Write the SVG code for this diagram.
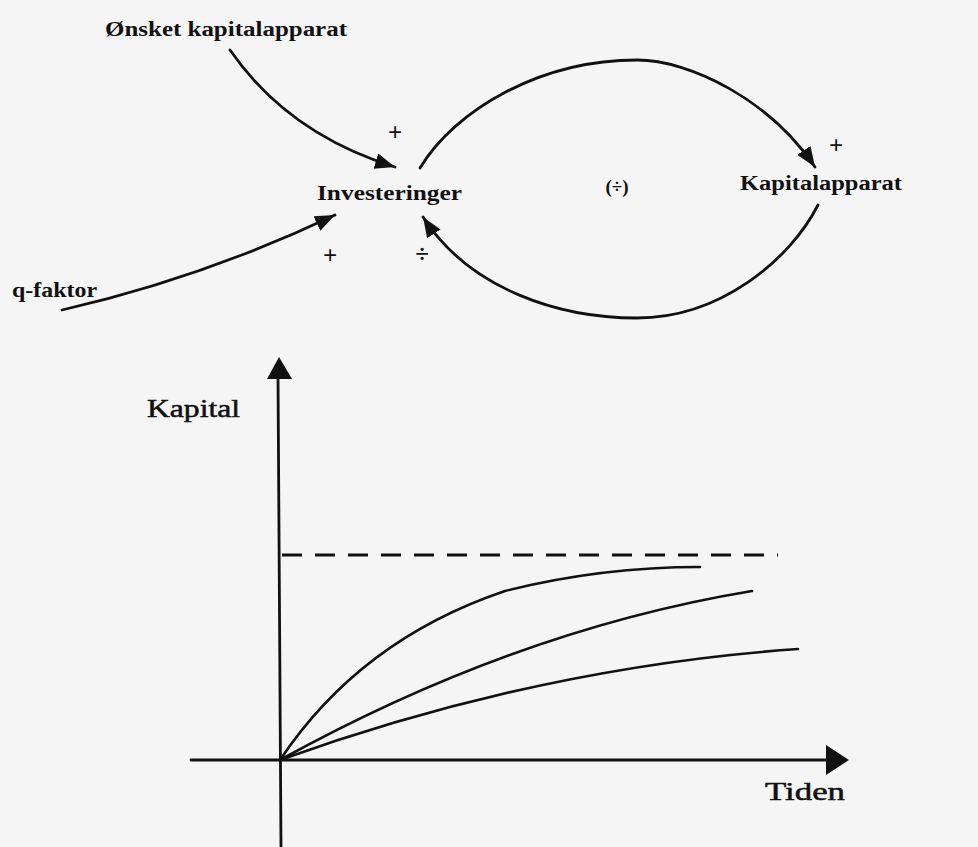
<svg xmlns="http://www.w3.org/2000/svg" width="978" height="847" viewBox="0 0 978 847">
  <style>
    .t { font-family: "Liberation Serif", "DejaVu Serif", serif; fill: #111; font-weight: bold; }
    .lbl { font-size: 20px; }
    .sign { font-size: 25px; }
    .ax { font-size: 25px; font-weight: normal; stroke: #111; stroke-width: 0.5; }
    .ln { fill: none; stroke: #111; stroke-width: 2.8; stroke-linecap: round; }
    .curve { fill: none; stroke: #111; stroke-width: 2.6; stroke-linecap: round; }
  </style>
  <defs>
    <marker id="ah" markerUnits="userSpaceOnUse" markerWidth="24" markerHeight="18" refX="20" refY="8" orient="auto">
      <path d="M0,0 L20,8 L0,16 Z" fill="#111"/>
    </marker>
  </defs>
  <rect x="0" y="0" width="978" height="847" fill="#f5f5f5"/>

  <g id="node-onsket">
    <text class="t lbl" x="105" y="36" textLength="242" lengthAdjust="spacingAndGlyphs">Ønsket kapitalapparat</text>
  </g>
  <g id="node-investeringer">
    <text class="t lbl" x="317" y="200" textLength="145" lengthAdjust="spacingAndGlyphs">Investeringer</text>
  </g>
  <g id="node-qfaktor">
    <text class="t lbl" x="12" y="297" textLength="85" lengthAdjust="spacingAndGlyphs">q-faktor</text>
  </g>
  <g id="node-kapitalapparat">
    <text class="t lbl" x="740" y="190" textLength="162" lengthAdjust="spacingAndGlyphs">Kapitalapparat</text>
  </g>
  <g id="loop-label">
    <text class="t" x="617" y="193" text-anchor="middle" font-size="19">(÷)</text>
  </g>
  <g id="signs">
    <text class="t sign" x="395" y="141" text-anchor="middle">+</text>
    <text class="t sign" x="330" y="264" text-anchor="middle">+</text>
    <text class="t sign" x="422" y="262" text-anchor="middle">÷</text>
    <text class="t sign" x="836" y="154" text-anchor="middle">+</text>
  </g>

  <g id="connectors">
    <path class="ln" d="M230,50 Q288,134 395,167" marker-end="url(#ah)"/>
    <path class="ln" d="M62,310 Q202,278 335,215" marker-end="url(#ah)"/>
    <path class="ln" d="M420,168 C455,110 540,60 637,60 C690,60 770,100 815,167" marker-end="url(#ah)"/>
    <path class="ln" d="M818,205 C790,260 720,318 637,318 C560,318 470,290 423,217" marker-end="url(#ah)"/>
  </g>

  <g id="graph">
    <line class="ln" x1="278" y1="376" x2="281" y2="847"/>
    <polygon points="279,357 267,379 292,379" fill="#111"/>
    <line class="ln" x1="191" y1="760" x2="830" y2="760"/>
    <polygon points="849,760 826,745 826,775" fill="#111"/>
    <line x1="282" y1="555" x2="778" y2="555" stroke="#111" stroke-width="3" stroke-dasharray="20 13"/>
    <path class="curve" d="M280,760 Q360,640 505,591 Q600,567 700,567"/>
    <path class="curve" d="M280,760 Q516,630 752,591"/>
    <path class="curve" d="M280,760 Q539,667 798,649"/>
    <text class="t ax" x="147" y="417" textLength="93" lengthAdjust="spacingAndGlyphs">Kapital</text>
    <text class="t ax" x="765" y="800" textLength="80" lengthAdjust="spacingAndGlyphs">Tiden</text>
  </g>
</svg>
